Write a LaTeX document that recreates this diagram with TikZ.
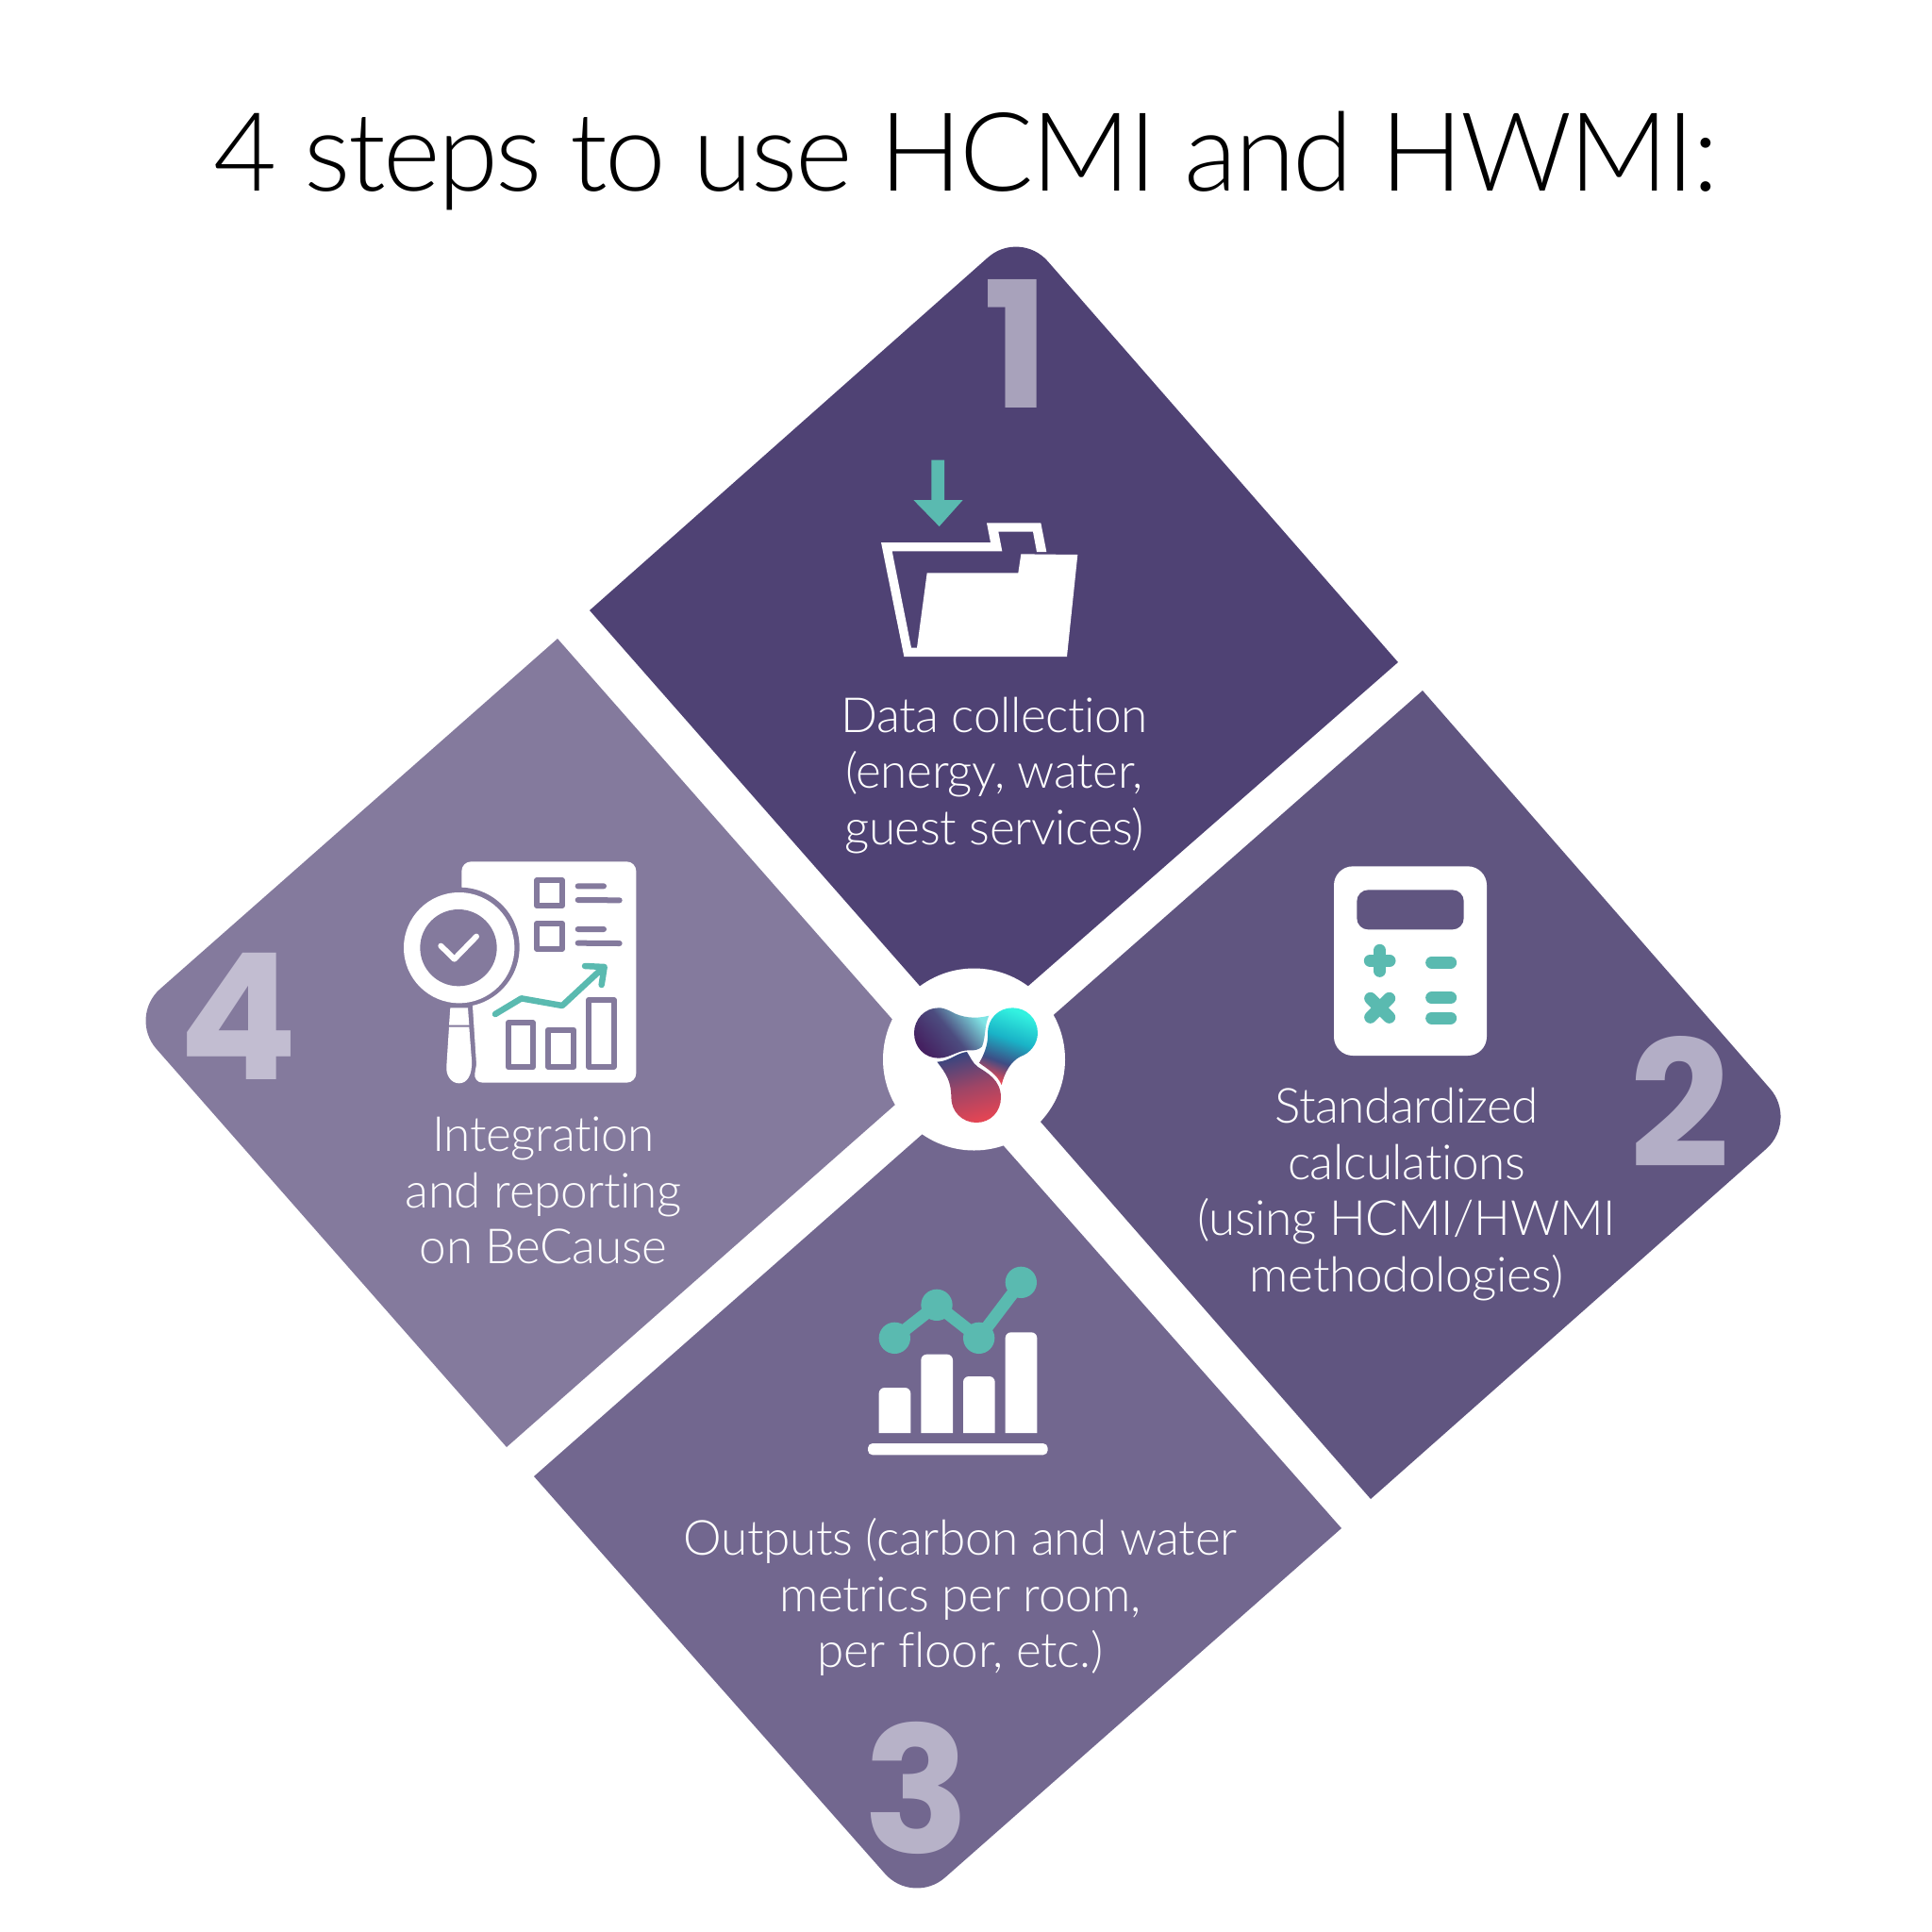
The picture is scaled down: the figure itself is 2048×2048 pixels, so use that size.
\documentclass[tikz,border=0pt]{standalone}
\usepackage{fontspec}
\setmainfont{Lato Light}[Ligatures=NoCommon]
\newfontfamily\titlefont{Lato Light}[Ligatures=NoCommon,LetterSpace=-2.2]
\newfontfamily\bodyfont{Lato Light}[Ligatures=NoCommon,LetterSpace=-0.8]
\newfontfamily\numfont{Poppins Bold}
\definecolor{petalA}{HTML}{4F4274}
\definecolor{petalB}{HTML}{605580}
\definecolor{petalC}{HTML}{72678F}
\definecolor{petalD}{HTML}{847A9D}
\definecolor{numA}{HTML}{A8A2BB}
\definecolor{numB}{HTML}{B3AEC6}
\definecolor{numC}{HTML}{B7B2C8}
\definecolor{numD}{HTML}{C2BDD1}
\definecolor{accent}{HTML}{5ABAB0}
\pgfdeclarehorizontalshading{logoA}{100bp}{rgb(0bp)=(0.27,0.13,0.38);rgb(25bp)=(0.27,0.13,0.38);rgb(50bp)=(0.30,0.30,0.50);rgb(75bp)=(0.50,0.90,0.90);rgb(100bp)=(0.50,0.90,0.90)}
\pgfdeclarehorizontalshading{logoB}{100bp}{rgb(0bp)=(0.90,0.28,0.33);rgb(25bp)=(0.90,0.28,0.33);rgb(38bp)=(0.24,0.30,0.52);rgb(55bp)=(0.10,0.70,0.78);rgb(75bp)=(0.20,0.95,0.88);rgb(100bp)=(0.20,0.95,0.88)}
\pgfdeclarehorizontalshading{logoC}{100bp}{rgb(0bp)=(0.89,0.27,0.33);rgb(25bp)=(0.89,0.27,0.33);rgb(50bp)=(0.62,0.27,0.40);rgb(75bp)=(0.22,0.27,0.50);rgb(100bp)=(0.22,0.27,0.50)}
\tikzset{%
  steptext/.style={text=white,align=center,font=\bodyfont\fontsize{14.6}{17}\selectfont},
  stepnum/.style={anchor=base,inner sep=0pt,font=\numfont\fontsize{53}{53}\selectfont},
  zoomed/.style={shift={#1},scale=1/3},
  tealstroke/.style={draw=accent,line cap=round,line join=round,line width=.13cm},
  markstroke/.style={draw=petalD,line cap=round,line join=round,line width=.06cm},
}
\newcommand{\petal}[5]{% colour, inner, side, apex, side
  \fill[#1] (#2) -- (#3) [rounded corners=.45cm] -- (#4) [sharp corners] -- (#5) -- cycle;}
\begin{document}
\begin{tikzpicture}[x=0.01cm,y=-0.01cm]
\useasboundingbox (0,0) rectangle (2048,2048);
\node[anchor=base] (title) at (1024,202) {\titlefont\fontsize{33}{40}\selectfont 4 steps to use HCMI and HWMI:};
% the four petals
\petal{petalA}{1025,1102}{625,647}{1081,243}{1482,702}
\petal{petalB}{1053,1132}{1508,732}{1906,1188}{1453,1589}
\petal{petalC}{1020,1165}{1422,1620}{968,2020}{566,1565}
\petal{petalD}{992,1133}{537,1534}{136,1078}{591,677}
\fill[white] (1032.5,1123) circle[radius=96.5];
% numbers
\node[stepnum,text=numA] (numone) at (1078,432) {1};
\node[stepnum,text=numB] (numtwo) at (1781,1237) {2};
\node[stepnum,text=numC] (numthree) at (972,1964) {3};
\node[stepnum,text=numD] (numfour) at (253,1144) {4};
% captions
\node[steptext] (txtone) at (1054,822) {Data collection\\(energy, water,\\guest services)};
\node[steptext] (txttwo) at (1491,1266) {Standardized\\calculations\\(using HCMI/HWMI\\methodologies)};
\node[steptext] (txtthree) at (1018,1693) {Outputs (carbon and water\\metrics per room,\\per floor, etc.)};
\node[steptext] (txtfour) at (576,1262) {Integration\\and reporting\\on BeCause};
% folder
\begin{scope}[zoomed={(900,470)}]
  \fill[accent] (262,53) -- (303,53) -- (303,180) -- (362,180) -- (287,264) -- (205,180) -- (262,180) -- cycle;
  \fill[white] (102,315) -- (450,315) -- (438,253) -- (610,253) -- (628,345) -- (597,345) -- (585,281) -- (475,281)
    -- (487,343) -- (137,343) -- (198,650) -- (216,650) -- (248,412) -- (538,412) -- (547,352) -- (727,354)
    -- (693,678) -- (175,678) -- cycle;
\end{scope}
% calculator
\begin{scope}[zoomed={(1390,900)}]
  \fill[white,rounded corners=.2cm] (72,55) rectangle (558,657);
  \fill[petalB,rounded corners=.12cm] (145,130) rectangle (485,256);
  \draw[tealstroke] (187,355) -- (249,355) (218,322) -- (218,388);
  \draw[tealstroke] (188,475) -- (248,535) (248,475) -- (188,535);
  \foreach \y in {361,473,537} {
    \draw[tealstroke] (383,\y) -- (443,\y);
  }
\end{scope}
% bar chart
\begin{scope}[zoomed={(900,1320)}]
  \foreach \x/\t in {95/453,229/347,363/417,497/277} {
    \fill[white] (\x,597) [rounded corners=.06cm] -- (\x,\t) -- (\x+101,\t) [sharp corners] -- (\x+101,597) -- cycle;
  }
  \fill[white,rounded corners=.05cm] (60,630) rectangle (632,667);
  \draw[tealstroke,line cap=butt] (145,295) -- (279,190) -- (413,295) -- (547,118);
  \foreach \x/\y in {145/295,279/190,413/295,547/118} {
    \fill[accent] (\x,\y) circle[radius=50];
  }
\end{scope}
% report and magnifier
\begin{scope}[zoomed={(400,890)}]
  \fill[white,rounded corners=.1cm] (268,200) -- (268,70) -- (823,70) -- (823,773) -- (305,773) [sharp corners] -- (315,715) -- (303,530) -- (268,340) -- cycle;
  \fill[petalD] (262,342) circle[radius=190];
  \fill[white] (260,344) circle[radius=176];
  \fill[petalD] (258,344) circle[radius=122];
  \draw[white,line cap=round,line join=round,line width=.06cm] (202,338) -- (245,380) -- (315,308);
  \fill[white] (232,535) -- (288,535) -- (292,590) -- (228,590) -- cycle;
  \fill[white] (228,596) -- (292,596) -- (300,700) .. controls (303,750) and (285,775) .. (260,775)
    .. controls (235,775) and (217,750) .. (220,720) -- cycle;
  \foreach \y in {0,137} {
    \draw[markstroke] (507,130+\y) rectangle (588,210+\y);
    \draw[markstroke] (638,148+\y) -- (720,148+\y) (638,192+\y) -- (770,193+\y);
  }
  \draw[markstroke] (417,582) rectangle (494,724);
  \draw[markstroke] (543,605) rectangle (625,722);
  \draw[markstroke] (672,510) rectangle (752,722);
  \draw[draw=accent,line cap=round,line join=round,line width=.065cm] (375,555) -- (458,505) -- (588,528) -- (715,410)
    (660,402) -- (722,405) -- (713,462);
\end{scope}
% logo
\begin{scope}[zoomed={(900,950)}]
  \shade[shading=logoA,shading angle=40] (445,380) .. controls (400,392) and (355,385) .. (325,367)
    .. controls (305,357) and (295,355) .. (285,355) .. controls (240,355) and (207,392) .. (207,435)
    .. controls (207,480) and (240,515) .. (285,515) .. controls (320,515) and (345,490) .. (380,490)
    .. controls (400,492) and (415,487) .. (423,478) .. controls (435,450) and (430,410) .. (445,380) -- cycle;
  \shade[shading=logoB,shading angle=70] (520,355) .. controls (565,355) and (600,390) .. (600,435)
    .. controls (600,470) and (575,500) .. (545,510) .. controls (515,525) and (495,560) .. (485,600)
    .. controls (470,565) and (440,550) .. (414,530) .. controls (435,495) and (443,460) .. (441,435)
    .. controls (441,390) and (475,355) .. (520,355) -- cycle;
  \shade[shading=logoC,shading angle=105] (280,527) .. controls (320,525) and (345,497) .. (375,495)
    .. controls (385,510) and (392,530) .. (410,543) .. controls (440,562) and (483,585) .. (483,640)
    .. controls (483,685) and (450,720) .. (405,720) .. controls (360,720) and (325,685) .. (325,640)
    .. controls (325,590) and (310,565) .. (280,527) -- cycle;
\end{scope}
\end{tikzpicture}
\end{document}
